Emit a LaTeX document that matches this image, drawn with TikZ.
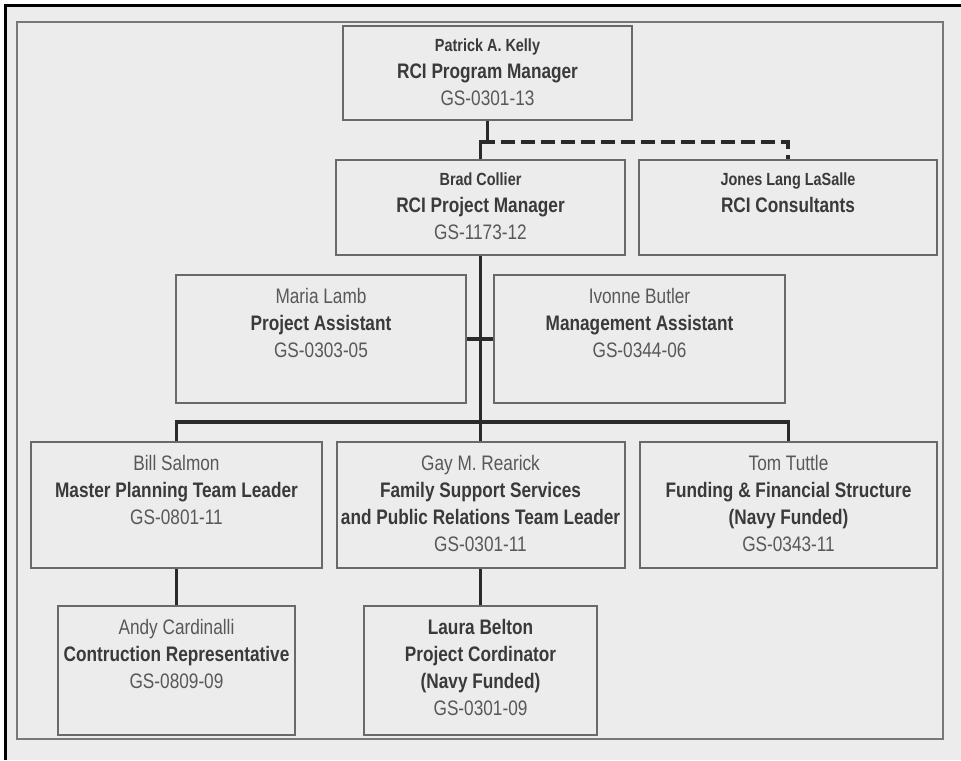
\documentclass[tikz,border=0pt]{standalone}
\usepackage{fontspec}
\setmainfont{Liberation Sans}[FakeStretch=0.82]

\definecolor{paper}{RGB}{236,236,236}
\definecolor{boxline}{RGB}{105,105,105}
\definecolor{wireline}{RGB}{42,42,42}
\definecolor{framegray}{RGB}{120,120,120}
\definecolor{ink}{RGB}{58,58,58}
\definecolor{inkreg}{RGB}{88,88,88}

% box contents, top aligned
\newcommand{\card}[3]{\parbox[c][#2][t]{#1}{\vspace*{6.5pt}\centering #3\par}}
\newcommand{\who}[1]{{\fontsize{8.8}{13.5}\selectfont\bfseries\color{ink}#1}}
\newcommand{\job}[1]{{\bfseries\color{ink}#1}}

\begin{document}
\begin{tikzpicture}[x=0.5pt, y=-0.5pt,
  post/.style={draw=boxline, line width=1pt, fill=paper, inner sep=0pt,
    text=inkreg, font=\fontsize{10.5}{13.5}\selectfont},
  wire/.style={draw=wireline, line width=1.8pt}]

% page
\useasboundingbox (0,0) rectangle (961,760);
\fill[white] (0,0) rectangle (961,760);
\fill[paper] (5,5) rectangle (961,760);
\draw[line width=1.5pt] (5,760) -- (5,5) -- (961,5);
\draw[framegray, line width=1.3pt] (17,22) rectangle (943,739);

% top
\node[post] (pat) at (487.5,73) {\card{144.5pt}{47pt}{\who{Patrick A. Kelly}\\ \job{RCI Program Manager}\\ GS-0301-13}};
\node[post] (brad) at (480.5,207.5) {\card{144.5pt}{47.5pt}{\who{Brad Collier}\\ \job{RCI Project Manager}\\ GS-1173-12}};
\node[post] (jones) at (788,207.5) {\card{149pt}{47.5pt}{\who{Jones Lang LaSalle}\\ \job{RCI Consultants}}};

% assistants
\node[post] (maria) at (321,339) {\card{145pt}{64pt}{Maria Lamb\\ \job{Project Assistant}\\ GS-0303-05}};
\node[post] (ivonne) at (639.5,339) {\card{145.5pt}{64pt}{Ivonne Butler\\ \job{Management Assistant}\\ GS-0344-06}};

% team leaders
\node[post] (bill) at (176.5,505) {\card{145.5pt}{63pt}{Bill Salmon\\ \job{Master Planning Team Leader}\\ GS-0801-11}};
\node[post] (gay) at (480.5,505) {\card{144pt}{63pt}{Gay M. Rearick\\ \job{Family Support Services}\\ \job{and Public Relations Team Leader}\\ GS-0301-11}};
\node[post] (tom) at (788.5,505) {\card{148.5pt}{63pt}{Tom Tuttle\\ \job{Funding \& Financial Structure}\\ \job{(Navy Funded)}\\ GS-0343-11}};

% staff
\node[post] (andy) at (176.5,670.5) {\card{118.5pt}{64.5pt}{Andy Cardinalli\\ \job{Contruction Representative}\\ GS-0809-09}};
\node[post] (laura) at (480.5,670.5) {\card{116.5pt}{64.5pt}{\job{Laura Belton}\\ \job{Project Cordinator}\\ \job{(Navy Funded)}\\ GS-0301-09}};

% lines
\coordinate (fork) at (480.5,142);
\coordinate (bus) at (480.5,422);
\draw[wire] (pat.south) -- (pat.south |- fork) -- (fork) -- (brad.north);
\draw[wire, dashed, dash pattern=on 7pt off 3pt] (fork) -| (jones.north);
\draw[wire] (brad.south) -- (gay.north);
\draw[wire] (maria.east) -- (ivonne.west);
\draw[wire] (bill.north) |- (bus) -| (tom.north);
\draw[wire] (bill.south) -- (andy.north);
\draw[wire] (gay.south) -- (laura.north);

\end{tikzpicture}
\end{document}
